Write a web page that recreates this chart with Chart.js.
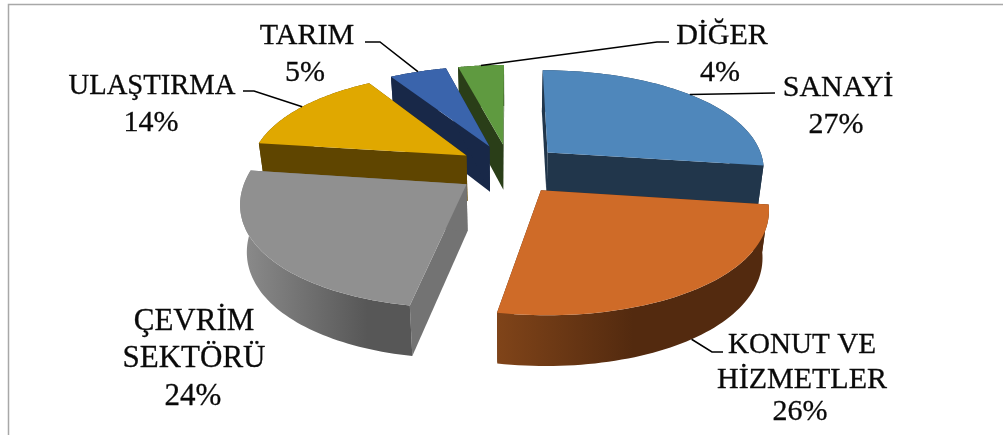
<!DOCTYPE html>
<html>
<head>
<meta charset="utf-8">
<style>
  html, body { margin: 0; padding: 0; background: #fff; }
  canvas { display: block; }
</style>
<script src="https://cdn.jsdelivr.net/npm/chart.js@4/dist/chart.umd.js"></script>
</head>
<body>
<canvas id="myChart" width="1003" height="435"></canvas>
<script>
// data
const categories = ['SANAYİ', 'KONUT VE HİZMETLER', 'ÇEVRİM SEKTÖRÜ', 'ULAŞTIRMA', 'TARIM', 'DİĞER'];
const shares = [27, 26, 24, 14, 5, 4];

// colours
const topColors = ['#4f87bb', '#cf6b28', '#909090', '#e0a800', '#3a64ac', '#5f9a40'];
const sideColors = ['#21364b', '#532a0f', '#737373', '#5f4500', '#182848', '#2a3e18'];
const rimLeftColors = ['#21364b', '#804419', '#8c8c8c', '#5f4500', '#182848', '#2a3e18'];
const rimRightColors = ['#21364b', '#532a0f', '#575757', '#5f4500', '#182848', '#2a3e18'];
const rimDarkAt = [0.6, 0.5, 0.75, 0.6, 0.6, 0.6];

// label text lines, wrapped like the original
const labelLines = [['SANAYİ'], ['KONUT VE', 'HİZMETLER'], ['ÇEVRİM', 'SEKTÖRÜ'], ['ULAŞTIRMA'], ['TARIM'], ['DİĞER']];

// where the label lines sit: [centre x, baseline y, width it is squeezed to] for each line, percent last
const labelPlaces = [
    [[838, 96], [836, 133]],
    [[802, 353, 148], [802, 388], [800, 420]],
    [[194, 330, 123], [194, 367, 144], [193, 405]],
    [[152, 94, 167], [151, 131]],
    [[307, 44], [305, 81]],
    [[722, 44], [720, 81]]
];
const labelSizes = [30, 30, 31, 30, 30, 30];
// leader lines: the elbow points after the slice anchor, null = no leader
const leaderElbows = [
    [[775, 93]],
    [[712, 352], [723, 352]],
    null,
    [[254, 91], [243, 91]],
    [[380, 42], [365, 42]],
    [[657, 42], [669, 42]]
];

// perspective look of the original 3d pie
const scaleX = 218, scaleY = 108;
const perspX = 0.15, perspBack = 0.23, perspFront = 0.1;
const depthBase = 46, depthGrow = 4, bottomShrink = 0.975;

const { ArcElement, PieController } = Chart;

class Arc3d extends ArcElement {
    static id = 'arc3d';

    ground(angle, r) {
        const mid = (this.startAngle + this.endAngle) / 2;
        const d = this.options.offset / this.outerRadius;
        return [d * Math.cos(mid) + r * Math.cos(angle), d * Math.sin(mid) + r * Math.sin(angle)];
    }

    // ground position to screen, bottom=true gives the lower face of the slab
    project(g, bottom) {
        const X = g[0], Y = g[1];
        let sx = scaleX * X / (1 - perspX * Y);
        let sy = scaleY * Y / (1 - (Y < 0 ? perspBack : perspFront) * Y);
        if (bottom) {
            sx *= bottomShrink;
            sy += depthBase + depthGrow * Y;
        }
        return [this.x + sx, this.y + sy];
    }

    arcPoints(bottom) {
        const pts = [];
        const n = 60;
        for (let i = 0; i <= n; i++) {
            const a = this.startAngle + (this.endAngle - this.startAngle) * i / n;
            pts.push(this.project(this.ground(a, 1), bottom));
        }
        return pts;
    }

    midPoint(bottom) {
        const mid = (this.startAngle + this.endAngle) / 2;
        return this.project(this.ground(mid, 1), bottom);
    }

    paint(ctx, side, rimLeft, rimRight, darkAt) {
        const top = this.arcPoints(false);
        const low = this.arcPoints(true);
        const apexTop = this.project(this.ground(0, 0), false);
        const apexLow = this.project(this.ground(0, 0), true);

        fillPoly(ctx, [apexTop, top[0], low[0], apexLow], side);
        fillPoly(ctx, [apexTop, top[top.length - 1], low[low.length - 1], apexLow], side);

        const xs = top.map(p => p[0]);
        const grad = ctx.createLinearGradient(Math.min(...xs), 0, Math.max(...xs), 0);
        grad.addColorStop(0, rimLeft);
        grad.addColorStop(darkAt, rimRight);
        grad.addColorStop(1, rimRight);
        fillPoly(ctx, top.concat(low.slice().reverse()), grad);

        fillPoly(ctx, [apexTop].concat(top), this.options.backgroundColor);
    }

    draw() {}
}

function fillPoly(ctx, pts, color) {
    ctx.beginPath();
    pts.forEach((p, i) => i ? ctx.lineTo(p[0], p[1]) : ctx.moveTo(p[0], p[1]));
    ctx.closePath();
    ctx.fillStyle = color;
    ctx.fill();
}

class Pie3d extends PieController {
    static id = 'pie3d';
    static defaults = { dataElementType: 'arc3d' };

    draw() {
        const ctx = this.chart.ctx;
        const arcs = this._cachedMeta.data;
        // back slices first
        const order = arcs.map((a, i) => i).sort((i, j) => {
            const mi = (arcs[i].startAngle + arcs[i].endAngle) / 2;
            const mj = (arcs[j].startAngle + arcs[j].endAngle) / 2;
            return Math.sin(mi) - Math.sin(mj);
        });
        ctx.save();
        order.forEach(i => arcs[i].paint(ctx, sideColors[i], rimLeftColors[i], rimRightColors[i], rimDarkAt[i]));
        ctx.restore();
    }
}

Chart.register(Arc3d, Pie3d);

const framePlugin = {
    id: 'frame',
    beforeDraw(chart) {
        const ctx = chart.ctx;
        ctx.save();
        ctx.strokeStyle = '#a8a8a8';
        ctx.lineWidth = 1.5;
        ctx.beginPath();
        ctx.moveTo(8.5, chart.height);
        ctx.lineTo(8.5, 4.5);
        ctx.lineTo(chart.width, 4.5);
        ctx.stroke();
        ctx.restore();
    }
};

const labelPlugin = {
    id: 'sliceLabels',
    afterDatasetsDraw(chart) {
        const ctx = chart.ctx;
        const arcs = chart.getDatasetMeta(0).data;
        ctx.save();
        ctx.strokeStyle = '#000';
        ctx.lineWidth = 1.5;
        arcs.forEach((arc, i) => {
            if (!leaderElbows[i]) return;
            // konut label hangs off the lower edge of the slab
            const start = arc.midPoint(Math.sin((arc.startAngle + arc.endAngle) / 2) > 0);
            ctx.beginPath();
            ctx.moveTo(start[0], start[1]);
            leaderElbows[i].forEach(p => ctx.lineTo(p[0], p[1]));
            ctx.stroke();
        });
        ctx.fillStyle = '#0a0a0a';
        ctx.strokeStyle = '#0a0a0a';
        ctx.lineWidth = 0.3;
        ctx.textAlign = 'center';
        ctx.textBaseline = 'alphabetic';
        labelLines.forEach((lines, i) => {
            ctx.font = labelSizes[i] + 'px "Liberation Serif"';
            const all = lines.concat(shares[i] + '%');
            all.forEach((txt, k) => {
                const place = labelPlaces[i][k];
                ctx.fillText(txt, place[0], place[1], place[2]);
                ctx.strokeText(txt, place[0], place[1], place[2]);
            });
        });
        ctx.restore();
    }
};

var myChart = new Chart(document.getElementById('myChart'), {
    type: 'pie3d',
    data: {
        labels: categories,
        datasets: [{
            data: shares,
            backgroundColor: topColors,
            borderWidth: 0,
            offset: 36,
            clip: false
        }]
    },
    options: {
        responsive: false,
        animation: false,
        events: [],
        layout: { padding: { left: 16, bottom: 97 } },
        plugins: { legend: { display: false }, tooltip: { enabled: false } }
    },
    plugins: [framePlugin, labelPlugin]
});
</script>
</body>
</html>
